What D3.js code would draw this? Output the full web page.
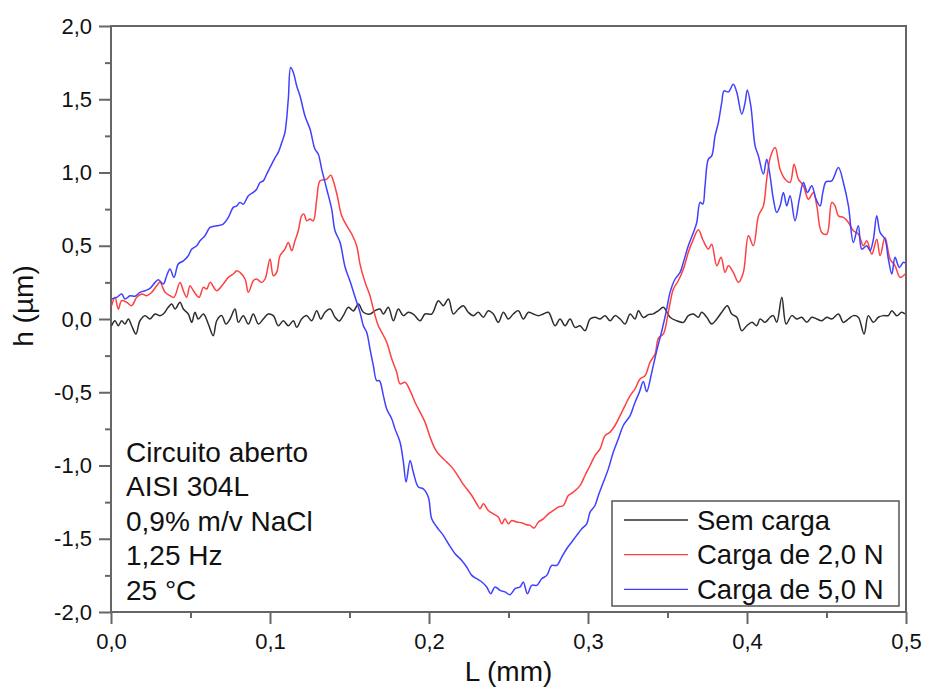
<!DOCTYPE html>
<html>
<head>
<meta charset="utf-8">
<script src="https://cdnjs.cloudflare.com/ajax/libs/d3/7.8.5/d3.min.js"></script>
<style>
  body { margin: 0; background: #fff; }
  svg text { font-family: 'Liberation Sans', Arial, sans-serif; fill: #111; }
</style>
</head>
<body>
<svg id="chart" width="925" height="691"></svg>
<script>
// L (mm), h (um)
var semCarga = [[0.0004,-0.046],[0.0025,-0.012],[0.0046,-0.046],[0.0067,-0.012],[0.0088,-0.034],[0.0109,0.000],[0.0130,-0.046],[0.0157,-0.102],[0.0182,-0.012],[0.0214,0.023],[0.0245,0.000],[0.0277,0.034],[0.0308,0.023],[0.0329,0.034],[0.0360,0.080],[0.0382,0.102],[0.0403,0.068],[0.0434,0.114],[0.0455,0.068],[0.0486,0.034],[0.0508,-0.023],[0.0528,0.046],[0.0549,0.000],[0.0581,0.034],[0.0612,-0.034],[0.0643,-0.114],[0.0665,-0.012],[0.0696,0.023],[0.0723,-0.034],[0.0749,0.000],[0.0780,0.068],[0.0801,-0.023],[0.0832,0.023],[0.0864,-0.034],[0.0895,0.034],[0.0927,-0.034],[0.0958,0.000],[0.0989,0.034],[0.1021,0.023],[0.1052,-0.046],[0.1084,-0.012],[0.1115,-0.046],[0.1147,-0.012],[0.1168,-0.057],[0.1199,0.000],[0.1231,0.023],[0.1262,-0.012],[0.1294,0.057],[0.1319,0.000],[0.1346,0.046],[0.1378,0.068],[0.1409,0.012],[0.1436,-0.014],[0.1461,0.023],[0.1493,0.080],[0.1524,0.055],[0.1556,0.102],[0.1587,0.046],[0.1629,0.034],[0.1661,0.057],[0.1692,0.068],[0.1713,0.034],[0.1744,0.080],[0.1776,-0.012],[0.1807,0.068],[0.1839,0.023],[0.1870,0.046],[0.1901,0.034],[0.1944,-0.012],[0.1975,0.034],[0.2017,0.034],[0.2059,0.125],[0.2090,0.091],[0.2122,0.136],[0.2153,0.034],[0.2185,0.068],[0.2216,0.091],[0.2247,0.046],[0.2279,0.023],[0.2310,0.046],[0.2342,0.012],[0.2373,0.057],[0.2405,0.034],[0.2436,-0.023],[0.2468,0.046],[0.2499,0.000],[0.2530,0.034],[0.2562,0.057],[0.2593,0.000],[0.2625,0.046],[0.2656,0.034],[0.2688,0.023],[0.2719,0.034],[0.2751,0.046],[0.2793,-0.046],[0.2824,0.000],[0.2856,-0.046],[0.2887,0.000],[0.2919,-0.057],[0.2950,-0.046],[0.2981,-0.080],[0.3013,0.000],[0.3044,0.012],[0.3076,0.000],[0.3107,0.023],[0.3139,-0.012],[0.3170,0.023],[0.3202,0.000],[0.3233,-0.034],[0.3265,0.034],[0.3296,0.000],[0.3317,0.057],[0.3348,0.010],[0.3380,0.030],[0.3411,0.035],[0.3443,0.057],[0.3474,0.080],[0.3516,0.012],[0.3558,-0.012],[0.3600,-0.023],[0.3631,0.023],[0.3663,0.034],[0.3694,0.012],[0.3715,0.046],[0.3747,0.012],[0.3778,-0.034],[0.3810,0.000],[0.3841,0.046],[0.3876,0.091],[0.3904,0.034],[0.3936,0.012],[0.3967,-0.080],[0.3999,-0.046],[0.4032,-0.023],[0.4061,-0.046],[0.4082,0.000],[0.4114,-0.023],[0.4145,0.012],[0.4166,0.023],[0.4187,-0.023],[0.4219,0.148],[0.4246,-0.034],[0.4282,0.023],[0.4313,0.000],[0.4344,0.012],[0.4376,-0.023],[0.4407,0.012],[0.4439,0.000],[0.4470,-0.012],[0.4502,0.012],[0.4533,0.000],[0.4575,0.034],[0.4606,-0.023],[0.4638,0.000],[0.4669,0.023],[0.4700,0.012],[0.4736,-0.102],[0.4763,0.023],[0.4795,-0.023],[0.4826,0.012],[0.4858,0.023],[0.4889,0.023],[0.4911,0.057],[0.4942,0.023],[0.4973,0.046],[0.4994,0.034]];

var carga2 = [[0.0004,0.091],[0.0025,0.148],[0.0046,0.068],[0.0067,0.125],[0.0099,0.114],[0.0130,0.091],[0.0162,0.148],[0.0193,0.170],[0.0225,0.159],[0.0256,0.182],[0.0287,0.227],[0.0308,0.250],[0.0340,0.182],[0.0371,0.159],[0.0396,0.148],[0.0434,0.250],[0.0455,0.193],[0.0476,0.148],[0.0497,0.227],[0.0518,0.193],[0.0554,0.148],[0.0581,0.216],[0.0602,0.205],[0.0623,0.250],[0.0665,0.193],[0.0706,0.239],[0.0738,0.284],[0.0769,0.307],[0.0791,0.330],[0.0811,0.318],[0.0843,0.273],[0.0864,0.182],[0.0895,0.261],[0.0916,0.273],[0.0948,0.250],[0.0969,0.273],[0.1000,0.409],[0.1021,0.295],[0.1042,0.318],[0.1063,0.432],[0.1094,0.477],[0.1115,0.523],[0.1137,0.466],[0.1157,0.534],[0.1178,0.602],[0.1199,0.704],[0.1214,0.716],[0.1231,0.670],[0.1252,0.682],[0.1272,0.670],[0.1294,0.818],[0.1315,0.943],[0.1357,0.955],[0.1382,0.982],[0.1398,0.943],[0.1423,0.841],[0.1451,0.704],[0.1483,0.636],[0.1514,0.580],[0.1545,0.500],[0.1566,0.375],[0.1598,0.250],[0.1629,0.159],[0.1650,0.068],[0.1681,-0.046],[0.1703,-0.091],[0.1734,-0.159],[0.1766,-0.273],[0.1797,-0.364],[0.1818,-0.443],[0.1849,-0.432],[0.1881,-0.489],[0.1912,-0.568],[0.1944,-0.636],[0.1975,-0.704],[0.2007,-0.807],[0.2038,-0.886],[0.2069,-0.932],[0.2112,-0.977],[0.2143,-1.011],[0.2174,-1.057],[0.2206,-1.113],[0.2237,-1.159],[0.2269,-1.205],[0.2300,-1.261],[0.2321,-1.295],[0.2342,-1.261],[0.2373,-1.307],[0.2405,-1.330],[0.2436,-1.352],[0.2458,-1.398],[0.2478,-1.364],[0.2499,-1.398],[0.2520,-1.375],[0.2552,-1.386],[0.2583,-1.391],[0.2615,-1.405],[0.2636,-1.409],[0.2661,-1.427],[0.2688,-1.386],[0.2719,-1.364],[0.2751,-1.330],[0.2782,-1.307],[0.2813,-1.284],[0.2845,-1.273],[0.2876,-1.205],[0.2908,-1.182],[0.2950,-1.137],[0.2981,-1.068],[0.3013,-1.000],[0.3044,-0.932],[0.3076,-0.886],[0.3107,-0.796],[0.3139,-0.772],[0.3170,-0.727],[0.3202,-0.659],[0.3233,-0.591],[0.3265,-0.523],[0.3296,-0.477],[0.3327,-0.409],[0.3359,-0.387],[0.3390,-0.295],[0.3422,-0.239],[0.3443,-0.130],[0.3474,-0.102],[0.3505,0.046],[0.3537,0.205],[0.3568,0.261],[0.3600,0.341],[0.3631,0.455],[0.3663,0.545],[0.3694,0.609],[0.3725,0.534],[0.3757,0.477],[0.3778,0.511],[0.3810,0.364],[0.3837,0.421],[0.3862,0.318],[0.3883,0.364],[0.3914,0.318],[0.3946,0.250],[0.3977,0.318],[0.4009,0.568],[0.4040,0.500],[0.4072,0.704],[0.4103,0.772],[0.4124,0.955],[0.4149,1.113],[0.4177,1.171],[0.4208,1.023],[0.4239,0.955],[0.4271,0.932],[0.4296,1.057],[0.4323,0.955],[0.4355,0.909],[0.4386,0.818],[0.4418,0.864],[0.4439,0.772],[0.4470,0.591],[0.4502,0.580],[0.4533,0.796],[0.4554,0.772],[0.4575,0.704],[0.4606,0.693],[0.4638,0.659],[0.4669,0.602],[0.4700,0.580],[0.4732,0.500],[0.4753,0.534],[0.4785,0.443],[0.4816,0.545],[0.4837,0.432],[0.4868,0.557],[0.4900,0.409],[0.4931,0.364],[0.4963,0.284],[0.4994,0.307]];

var carga5 = [[0.0004,0.136],[0.0036,0.148],[0.0067,0.170],[0.0088,0.136],[0.0120,0.159],[0.0151,0.155],[0.0182,0.182],[0.0214,0.193],[0.0245,0.209],[0.0277,0.250],[0.0298,0.268],[0.0329,0.239],[0.0350,0.295],[0.0371,0.341],[0.0396,0.284],[0.0423,0.375],[0.0455,0.397],[0.0486,0.432],[0.0508,0.477],[0.0539,0.500],[0.0560,0.534],[0.0591,0.568],[0.0623,0.625],[0.0665,0.636],[0.0706,0.648],[0.0738,0.693],[0.0769,0.762],[0.0791,0.772],[0.0811,0.796],[0.0832,0.784],[0.0864,0.841],[0.0895,0.864],[0.0916,0.886],[0.0937,0.932],[0.0958,0.943],[0.0979,0.989],[0.1011,1.057],[0.1032,1.102],[0.1052,1.137],[0.1074,1.205],[0.1094,1.273],[0.1115,1.500],[0.1130,1.716],[0.1147,1.682],[0.1168,1.591],[0.1189,1.522],[0.1220,1.386],[0.1252,1.295],[0.1283,1.159],[0.1304,1.125],[0.1325,1.023],[0.1357,0.886],[0.1388,0.750],[0.1409,0.602],[0.1440,0.525],[0.1472,0.355],[0.1503,0.259],[0.1535,0.150],[0.1566,0.046],[0.1587,-0.046],[0.1608,-0.091],[0.1629,-0.205],[0.1650,-0.318],[0.1671,-0.421],[0.1688,-0.421],[0.1713,-0.523],[0.1734,-0.614],[0.1766,-0.682],[0.1786,-0.750],[0.1818,-0.841],[0.1839,-0.977],[0.1856,-1.113],[0.1881,-0.966],[0.1901,-1.045],[0.1933,-1.147],[0.1964,-1.159],[0.1996,-1.216],[0.2017,-1.364],[0.2049,-1.420],[0.2090,-1.477],[0.2122,-1.534],[0.2164,-1.602],[0.2206,-1.648],[0.2237,-1.693],[0.2269,-1.750],[0.2300,-1.773],[0.2332,-1.795],[0.2363,-1.829],[0.2388,-1.875],[0.2415,-1.829],[0.2447,-1.852],[0.2478,-1.863],[0.2510,-1.882],[0.2541,-1.841],[0.2573,-1.829],[0.2593,-1.795],[0.2619,-1.875],[0.2646,-1.818],[0.2678,-1.818],[0.2709,-1.773],[0.2741,-1.750],[0.2772,-1.682],[0.2803,-1.682],[0.2835,-1.625],[0.2866,-1.568],[0.2898,-1.522],[0.2929,-1.477],[0.2961,-1.432],[0.2992,-1.398],[0.3013,-1.318],[0.3044,-1.273],[0.3065,-1.205],[0.3097,-1.113],[0.3128,-1.023],[0.3159,-0.909],[0.3191,-0.818],[0.3222,-0.727],[0.3265,-0.659],[0.3296,-0.568],[0.3323,-0.500],[0.3348,-0.427],[0.3369,-0.496],[0.3401,-0.364],[0.3432,-0.218],[0.3464,-0.082],[0.3495,0.068],[0.3516,0.182],[0.3548,0.273],[0.3579,0.318],[0.3600,0.387],[0.3631,0.500],[0.3663,0.591],[0.3684,0.659],[0.3705,0.796],[0.3722,0.784],[0.3736,0.909],[0.3757,1.091],[0.3778,1.113],[0.3799,1.250],[0.3820,1.341],[0.3841,1.477],[0.3856,1.557],[0.3883,1.550],[0.3914,1.602],[0.3936,1.546],[0.3967,1.398],[0.3988,1.477],[0.4002,1.563],[0.4024,1.454],[0.4051,1.182],[0.4072,1.113],[0.4103,0.989],[0.4124,1.091],[0.4145,0.977],[0.4166,0.818],[0.4187,0.727],[0.4208,0.772],[0.4229,0.864],[0.4250,0.772],[0.4271,0.841],[0.4302,0.670],[0.4329,0.818],[0.4355,0.932],[0.4380,0.864],[0.4407,0.909],[0.4434,0.818],[0.4460,0.772],[0.4477,0.864],[0.4497,0.936],[0.4533,0.943],[0.4575,1.034],[0.4606,0.932],[0.4638,0.772],[0.4669,0.523],[0.4700,0.636],[0.4722,0.477],[0.4753,0.500],[0.4774,0.466],[0.4795,0.545],[0.4816,0.704],[0.4837,0.591],[0.4868,0.545],[0.4889,0.409],[0.4911,0.307],[0.4931,0.421],[0.4958,0.352],[0.4984,0.387],[0.4994,0.382]];

var seriesNames = ['Sem carga', 'Carga de 2,0 N', 'Carga de 5,0 N'];
var seriesColors = ['#2e2e2e', '#ff4040', '#4040ff'];
var xTicks = [0, 0.1, 0.2, 0.3, 0.4, 0.5];
var xMinorTicks = [0.05, 0.15, 0.25, 0.35, 0.45];
var yTicks = [-2, -1.5, -1, -0.5, 0, 0.5, 1, 1.5, 2];
var yMinorTicks = [-1.75, -1.25, -0.75, -0.25, 0.25, 0.75, 1.25, 1.75];
var notes = ['Circuito aberto', 'AISI 304L', '0,9% m/v NaCl', '1,25 Hz', '25 \u00B0C'];

function drawChart() {
  var svg = d3.select('#chart'),
      left = 111, right = 906, top = 26, bottom = 612,
      axisColor = '#666';

  var ptBr = d3.formatLocale({decimal: ',', thousands: '.', grouping: [3], currency: ['', ''], minus: '-'});
  var fmt = ptBr.format('.1f');

  var x = d3.scaleLinear().domain([0, 0.5]).range([left, right]);
  var y = d3.scaleLinear().domain([-2, 2]).range([bottom, top]);

  svg.append('rect').attr('width', 925).attr('height', 691).attr('fill', '#fff');

  // frame
  svg.append('rect')
    .attr('x', left).attr('y', top)
    .attr('width', right - left).attr('height', bottom - top)
    .attr('fill', 'none').attr('stroke', axisColor).attr('stroke-width', 2);

  function styleAxis(g, fontSize) {
    g.select('.domain').remove();
    g.selectAll('line').attr('stroke', axisColor).attr('stroke-width', 2);
    g.selectAll('text').attr('font-size', fontSize).attr('fill', '#1a1a1a')
      .style('font-family', "'Liberation Sans', Arial, sans-serif");
  }

  svg.append('g').attr('transform', 'translate(0,' + bottom + ')')
    .call(d3.axisBottom(x).tickValues(xTicks).tickFormat(fmt).tickSize(12).tickPadding(9))
    .call(styleAxis, 22);
  svg.append('g').attr('transform', 'translate(0,' + bottom + ')')
    .call(d3.axisBottom(x).tickValues(xMinorTicks).tickFormat('').tickSize(6))
    .call(styleAxis, 22);
  svg.append('g').attr('transform', 'translate(' + left + ',0)')
    .call(d3.axisLeft(y).tickValues(yTicks).tickFormat(fmt).tickSize(12).tickPadding(7))
    .call(styleAxis, 22);
  svg.append('g').attr('transform', 'translate(' + left + ',0)')
    .call(d3.axisLeft(y).tickValues(yMinorTicks).tickFormat('').tickSize(6))
    .call(styleAxis, 22);

  svg.append('text').attr('x', (left + right) / 2).attr('y', 681)
    .attr('text-anchor', 'middle').attr('font-size', 28).text('L (mm)');
  svg.append('text').attr('transform', 'translate(33,306) rotate(-90)')
    .attr('text-anchor', 'middle').attr('font-size', 28).text('h (\u00B5m)');

  var line = d3.line()
    .x(function(d) { return x(d[0]); })
    .y(function(d) { return y(d[1]); })
    .curve(d3.curveCatmullRom.alpha(0.5));

  [semCarga, carga2, carga5].forEach(function(s, i) {
    svg.append('path').datum(s)
      .attr('d', line)
      .attr('fill', 'none')
      .attr('stroke', seriesColors[i])
      .attr('stroke-width', 1.5)
      .attr('stroke-linejoin', 'round');
  });

  // conditions note
  svg.append('g').selectAll('text').data(notes).enter().append('text')
    .attr('x', 126)
    .attr('y', function(d, i) { return 461.5 + i * 34.6; })
    .attr('font-size', 28)
    .text(function(d) { return d; });

  // legend
  var legend = svg.append('g');
  legend.append('rect')
    .attr('x', 612).attr('y', 501).attr('width', 287).attr('height', 105)
    .attr('fill', '#fff').attr('stroke', '#555').attr('stroke-width', 1.5);
  seriesNames.forEach(function(name, i) {
    var yy = 520 + i * 34.7;
    legend.append('line')
      .attr('x1', 624).attr('x2', 688).attr('y1', yy).attr('y2', yy)
      .attr('stroke', seriesColors[i]).attr('stroke-width', 1.3);
    legend.append('text')
      .attr('x', 697).attr('y', yy + 9.5)
      .attr('font-size', 27.5)
      .text(name);
  });
}

drawChart();
</script>
</body>
</html>
